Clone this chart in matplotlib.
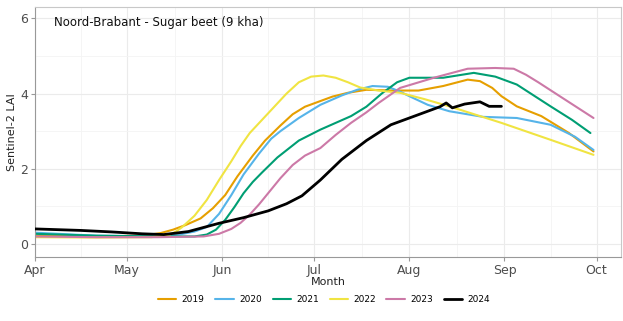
import matplotlib
matplotlib.use("Agg")
import matplotlib.pyplot as plt
from matplotlib.ticker import MultipleLocator

# days since 1 April
month_days = [0, 30, 61, 91, 122, 153, 183]
month_labels = ["Apr", "May", "Jun", "Jul", "Aug", "Sep", "Oct"]

years = ["2019", "2020", "2021", "2022", "2023", "2024"]
colors = ["#E69F00", "#56B4E9", "#009E73", "#F0E442", "#CC79A7", "#000000"]

days_2019 = [0, 20, 35, 41, 45, 49, 54, 58, 62, 66, 71, 75, 80, 84, 88, 93, 97, 102, 108, 117, 125, 133, 141, 145, 149, 152, 157, 165, 174, 182]
lai_2019 = [0.22, 0.2, 0.22, 0.29, 0.38, 0.5, 0.68, 0.95, 1.3, 1.8, 2.35, 2.75, 3.15, 3.45, 3.65, 3.8, 3.92, 4.02, 4.1, 4.08, 4.08, 4.2, 4.37, 4.33, 4.15, 3.93, 3.66, 3.4, 2.95, 2.46]

days_2020 = [0, 20, 40, 47, 52, 56, 60, 64, 68, 73, 77, 80, 86, 93, 100, 105, 110, 115, 119, 122, 128, 135, 146, 157, 168, 176, 182]
lai_2020 = [0.3, 0.22, 0.2, 0.25, 0.33, 0.45, 0.8, 1.3, 1.85, 2.4, 2.8, 3.0, 3.35, 3.7, 3.95, 4.1, 4.2, 4.18, 4.05, 3.93, 3.7, 3.53, 3.38, 3.35, 3.17, 2.85, 2.5]

days_2021 = [0, 20, 40, 52, 56, 59, 62, 65, 68, 71, 74, 79, 86, 93, 103, 108, 113, 118, 122, 133, 143, 150, 157, 168, 175, 181]
lai_2021 = [0.27, 0.22, 0.2, 0.2, 0.25, 0.38, 0.64, 0.98, 1.35, 1.65, 1.9, 2.3, 2.75, 3.04, 3.4, 3.65, 4.0, 4.3, 4.42, 4.42, 4.55, 4.45, 4.24, 3.66, 3.3, 2.95]

days_2022 = [0, 20, 38, 44, 46, 48, 52, 56, 60, 64, 67, 70, 74, 78, 82, 86, 90, 94, 98, 102, 106, 112, 119, 127, 135, 152, 168, 182]
lai_2022 = [0.18, 0.17, 0.18, 0.25, 0.33, 0.45, 0.75, 1.17, 1.7, 2.2, 2.6, 2.95, 3.3, 3.65, 4.0, 4.3, 4.45, 4.48, 4.42, 4.3, 4.16, 4.08, 4.02, 3.85, 3.66, 3.22, 2.77, 2.37]

days_2023 = [0, 20, 40, 55, 60, 64, 67, 70, 73, 76, 80, 84, 88, 93, 98, 103, 108, 112, 119, 130, 141, 150, 156, 160, 164, 171, 182]
lai_2023 = [0.2, 0.18, 0.18, 0.2, 0.27, 0.4, 0.56, 0.78, 1.05, 1.35, 1.75, 2.1, 2.35, 2.55, 2.9, 3.22, 3.5, 3.75, 4.15, 4.42, 4.66, 4.68, 4.66, 4.5, 4.3, 3.93, 3.35]

days_2024 = [0, 15, 25, 35, 42, 50, 55, 60, 68, 76, 82, 87, 93, 100, 108, 116, 125, 132, 134, 136, 140, 145, 148, 152]
lai_2024 = [0.4, 0.36, 0.32, 0.27, 0.25, 0.33, 0.44, 0.55, 0.7, 0.88, 1.07, 1.28, 1.7, 2.25, 2.75, 3.17, 3.44, 3.65, 3.75, 3.62, 3.72, 3.78, 3.66, 3.66]

series_days = [days_2019, days_2020, days_2021, days_2022, days_2023, days_2024]
series_lai = [lai_2019, lai_2020, lai_2021, lai_2022, lai_2023, lai_2024]

fig = plt.figure(figsize=(6.23, 3.21), dpi=100)
ax = fig.add_axes([0.056, 0.199, 0.941, 0.779])

for yr, col, d, v in zip(years, colors, series_days, series_lai):
    lw = 2.0 if yr == "2024" else 1.5
    ax.plot(d, v, color=col, lw=lw, label=yr, solid_capstyle="round",
            solid_joinstyle="round", zorder=3 if yr == "2024" else 2)

ax.set_xlim(0, 191)
ax.set_ylim(-0.35, 6.3)
ax.set_xticks(month_days)
ax.set_xticklabels(month_labels)
ax.set_yticks([0, 2, 4, 6])
ax.set_xticks([15, 45.5, 76, 106.5, 137.5, 168], minor=True)
ax.yaxis.set_minor_locator(MultipleLocator(1))
ax.grid(which="major", color="#ebebeb", lw=0.8)
ax.grid(which="minor", color="#f4f4f4", lw=0.6)
ax.set_axisbelow(True)

for side in ["top", "right"]:
    ax.spines[side].set_color("#c8c8c8")
for side in ["left", "bottom"]:
    ax.spines[side].set_color("#999999")
ax.tick_params(which="major", length=3, color="#999999", labelcolor="#4d4d4d", labelsize=9, pad=2)
ax.tick_params(which="minor", length=0)

ax.set_xlabel("Month", fontsize=8, color="#222222", labelpad=0)
ax.set_ylabel("Sentinel-2 LAI", fontsize=8, color="#222222", labelpad=2)
ax.text(0.033, 0.94, "Noord-Brabant - Sugar beet (9 kha)", transform=ax.transAxes,
        fontsize=8.5, color="#111111", va="center")

fig.legend(loc="center", bbox_to_anchor=(0.52, 0.068), ncol=6, frameon=False,
           fontsize=6.5, handlelength=2.0, columnspacing=1.2, handletextpad=0.6)

fig.savefig("out.png", dpi=100)
